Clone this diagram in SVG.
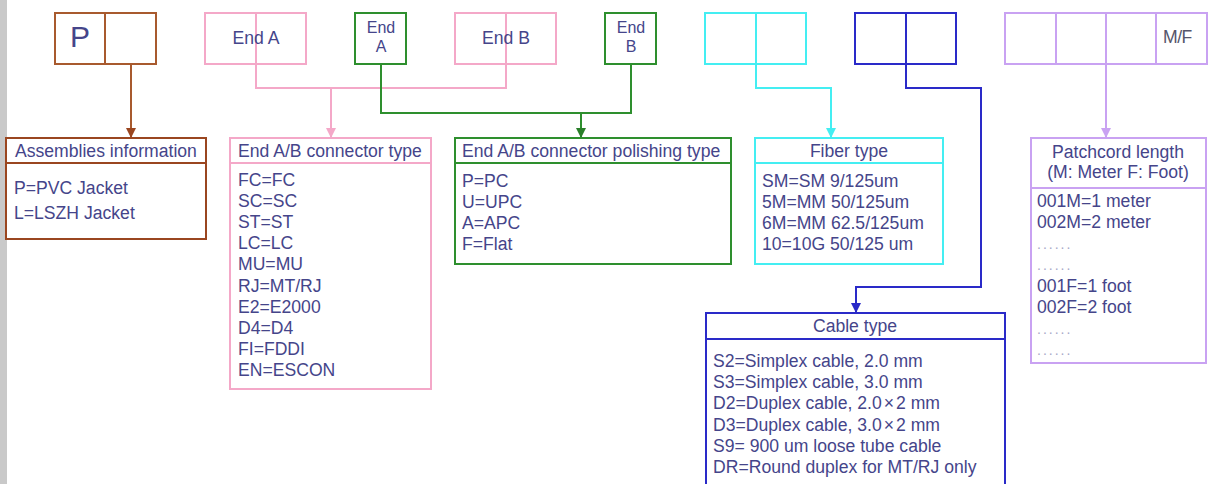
<svg xmlns="http://www.w3.org/2000/svg" width="1211" height="484" viewBox="0 0 1211 484">
<style>
text{font-family:"Liberation Sans",Arial,sans-serif;font-size:17.6px;fill:#45458a}
.c{text-anchor:middle}
.dots{fill:#a8a8c8;font-size:14px;letter-spacing:2px}
.box{fill:#fff;stroke-width:2}
.ln{fill:none;stroke-width:2}
.br{stroke:#a85a2e}.brd{stroke:#9a4620}
.pk{stroke:#f4a8c8}
.gr{stroke:#2e8f2e}
.cy{stroke:#44eef2}
.bl{stroke:#2a2ac8}
.pu{stroke:#c9a2f2}
</style>
<defs>
<marker id="a-br" markerWidth="10" markerHeight="10" refX="10" refY="5" orient="auto" markerUnits="userSpaceOnUse"><path d="M0,0 L10,5 L0,10 z" fill="#9a4620"/></marker>
<marker id="a-pk" markerWidth="10" markerHeight="10" refX="10" refY="5" orient="auto" markerUnits="userSpaceOnUse"><path d="M0,0 L10,5 L0,10 z" fill="#f4a8c8"/></marker>
<marker id="a-gr" markerWidth="10" markerHeight="10" refX="10" refY="5" orient="auto" markerUnits="userSpaceOnUse"><path d="M0,0 L10,5 L0,10 z" fill="#2a7f2a"/></marker>
<marker id="a-cy" markerWidth="10" markerHeight="10" refX="10" refY="5" orient="auto" markerUnits="userSpaceOnUse"><path d="M0,0 L10,5 L0,10 z" fill="#44eef2"/></marker>
<marker id="a-bl" markerWidth="10" markerHeight="10" refX="10" refY="5" orient="auto" markerUnits="userSpaceOnUse"><path d="M0,0 L10,5 L0,10 z" fill="#2a2ac8"/></marker>
<marker id="a-pu" markerWidth="10" markerHeight="10" refX="10" refY="5" orient="auto" markerUnits="userSpaceOnUse"><path d="M0,0 L10,5 L0,10 z" fill="#c9a2f2"/></marker>
</defs>
<rect x="0" y="0" width="1211" height="484" fill="#fff"/>
<rect x="0" y="0" width="7" height="484" fill="#c9c9c9"/>

<g id="connectors">
<path class="ln br" d="M131,64 V138" marker-end="url(#a-br)"/>
<path class="ln pk" d="M256,64 V88 H506 V64"/>
<path class="ln pk" d="M331,88 V138" marker-end="url(#a-pk)"/>
<path class="ln gr" d="M381,64 V113 H631 V64"/>
<path class="ln gr" d="M581,113 V138" marker-end="url(#a-gr)"/>
<path class="ln cy" d="M756,64 V88 H831 V138" marker-end="url(#a-cy)"/>
<path class="ln bl" d="M906,64 V88 H981 V287 H856 V313" marker-end="url(#a-bl)"/>
<path class="ln pu" d="M1106,64 V138" marker-end="url(#a-pu)"/>
</g>

<g id="top-p">
<rect class="box br" x="55" y="13" width="101" height="51"/>
<line class="ln br" x1="105" y1="13" x2="105" y2="64"/>
<text x="80" y="47" class="c" style="font-size:30px">P</text>
</g>
<g id="top-end-a">
<rect class="box pk" x="205" y="13" width="101" height="51"/>
<line class="ln pk" x1="256" y1="13" x2="256" y2="64"/>
<text x="256" y="44" class="c">End A</text>
</g>
<g id="top-end-a-polish">
<rect class="box gr" x="355" y="13" width="51" height="51"/>
<text x="381" y="33" class="c" style="font-size:16px">End</text>
<text x="381" y="52" class="c" style="font-size:16px">A</text>
</g>
<g id="top-end-b">
<rect class="box pk" x="455" y="13" width="101" height="51"/>
<line class="ln pk" x1="506" y1="13" x2="506" y2="64"/>
<text x="506" y="44" class="c">End B</text>
</g>
<g id="top-end-b-polish">
<rect class="box gr" x="605" y="13" width="51" height="51"/>
<text x="631" y="33" class="c" style="font-size:16px">End</text>
<text x="631" y="52" class="c" style="font-size:16px">B</text>
</g>
<g id="top-fiber">
<rect class="box cy" x="705" y="13" width="101" height="51"/>
<line class="ln cy" x1="756" y1="13" x2="756" y2="64"/>
</g>
<g id="top-cable">
<rect class="box bl" x="855" y="13" width="101" height="51"/>
<line class="ln bl" x1="906" y1="13" x2="906" y2="64"/>
</g>
<g id="top-length">
<rect class="box pu" x="1005" y="13" width="202" height="51"/>
<line class="ln pu" x1="1056" y1="13" x2="1056" y2="64"/>
<line class="ln pu" x1="1106" y1="13" x2="1106" y2="64"/>
<line class="ln pu" x1="1156" y1="13" x2="1156" y2="64"/>
<text x="1163" y="43" style="fill:#55556a;letter-spacing:-0.5px">M/F</text>
</g>

<g id="assemblies">
<rect class="box brd" x="6" y="138" width="200" height="101"/>
<line class="ln brd" x1="6" y1="163" x2="206" y2="163"/>
<text x="15" y="157">Assemblies information</text>
<text x="14" y="194">P=PVC Jacket</text>
<text x="14" y="219">L=LSZH Jacket</text>
</g>

<g id="connector-type">
<rect class="box pk" x="230" y="138" width="201" height="251"/>
<line class="ln pk" x1="230" y1="163" x2="431" y2="163"/>
<text x="238" y="157">End A/B connector type</text>
<text x="238" y="186">FC=FC</text>
<text x="238" y="207">SC=SC</text>
<text x="238" y="228">ST=ST</text>
<text x="238" y="249">LC=LC</text>
<text x="238" y="270">MU=MU</text>
<text x="238" y="292">RJ=MT/RJ</text>
<text x="238" y="313">E2=E2000</text>
<text x="238" y="334">D4=D4</text>
<text x="238" y="355">FI=FDDI</text>
<text x="238" y="376">EN=ESCON</text>
</g>

<g id="polishing-type">
<rect class="box gr" x="455" y="138" width="276" height="126"/>
<line class="ln gr" x1="455" y1="163" x2="731" y2="163"/>
<text x="462" y="157">End A/B connector polishing type</text>
<text x="462" y="187">P=PC</text>
<text x="462" y="208">U=UPC</text>
<text x="462" y="229">A=APC</text>
<text x="462" y="250">F=Flat</text>
</g>

<g id="fiber-type">
<rect class="box cy" x="755" y="138" width="188" height="126"/>
<line class="ln cy" x1="755" y1="163" x2="943" y2="163"/>
<text x="849" y="157" class="c">Fiber type</text>
<text x="762" y="187">SM=SM 9/125um</text>
<text x="762" y="208">5M=MM 50/125um</text>
<text x="762" y="229">6M=MM 62.5/125um</text>
<text x="762" y="250">10=10G 50/125 um</text>
</g>

<g id="cable-type">
<rect class="box bl" x="706" y="313" width="299" height="200"/>
<line class="ln bl" x1="706" y1="339" x2="1005" y2="339"/>
<text x="855" y="332" class="c">Cable type</text>
<text x="713" y="367">S2=Simplex cable, 2.0 mm</text>
<text x="713" y="388">S3=Simplex cable, 3.0 mm</text>
<text x="713" y="409">D2=Duplex cable, 2.0<tspan dx="2">×</tspan><tspan dx="2">2 mm</tspan></text>
<text x="713" y="431">D3=Duplex cable, 3.0<tspan dx="2">×</tspan><tspan dx="2">2 mm</tspan></text>
<text x="713" y="452">S9= 900 um loose tube cable</text>
<text x="713" y="473">DR=Round duplex for MT/RJ only</text>
</g>

<g id="patchcord-length">
<rect class="box pu" x="1031" y="138" width="175" height="225"/>
<line class="ln pu" x1="1031" y1="188" x2="1206" y2="188"/>
<text x="1118" y="158" class="c">Patchcord length</text>
<text x="1118" y="178" class="c">(M: Meter F: Foot)</text>
<text x="1037" y="207">001M=1 meter</text>
<text x="1037" y="228">002M=2 meter</text>
<text x="1037" y="249" class="dots">......</text>
<text x="1037" y="270" class="dots">......</text>
<text x="1037" y="292">001F=1 foot</text>
<text x="1037" y="313">002F=2 foot</text>
<text x="1037" y="334" class="dots">......</text>
<text x="1037" y="355" class="dots">......</text>
</g>
</svg>
